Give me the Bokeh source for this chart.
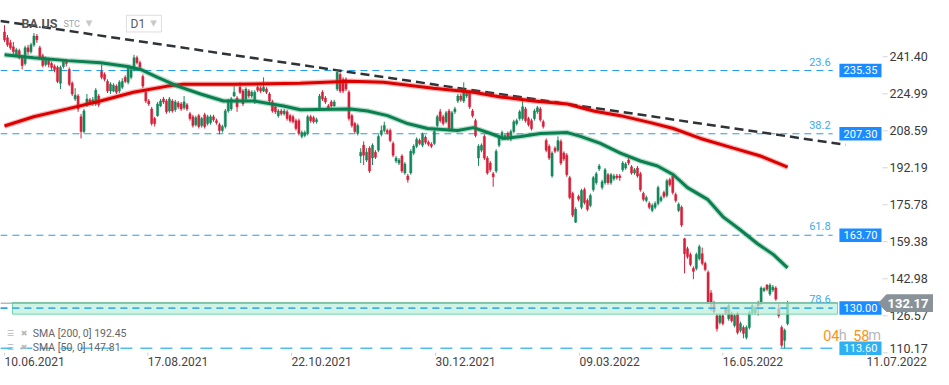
from bokeh.plotting import figure
from bokeh.models import Range1d
from bokeh.embed import file_html
from bokeh.resources import INLINE
from bokeh.core.properties import value

# ---------------- data ----------------
opens = [
252.4, 249.8, 247.6, 245.8, 242.3, 244.1, 241.0, 238.4, 245.4, 243.6,
246.7, 250.6, 245.4, 241.9, 238.0, 240.2, 238.4, 237.1, 236.7, 229.7,
237.1, 239.3, 235.8, 229.7, 222.7, 224.0, 214.8, 208.3, 220.1, 222.3,
220.9, 220.5, 224.0, 234.9, 233.6, 230.5, 226.2, 226.2, 228.4, 226.2,
227.9, 232.3, 230.1, 232.3, 235.8, 241.0, 238.8, 232.7, 225.7, 221.8,
218.3, 214.0, 215.3, 219.6, 222.7, 221.8, 217.4, 221.8, 217.9, 220.9,
220.5, 218.8, 220.1, 216.1, 214.8, 211.3, 215.3, 210.9, 215.7, 211.8,
212.2, 214.8, 213.1, 211.3, 208.7, 210.5, 217.4, 218.3, 224.0, 223.1,
227.9, 226.2, 222.7, 226.2, 224.0, 221.4, 227.9, 227.5, 226.2, 227.1,
224.9, 221.4, 219.2, 215.3, 217.4, 216.1, 217.0, 215.3, 214.8, 213.1,
213.1, 206.1, 206.5, 207.4, 214.8, 214.4, 212.6, 218.3, 225.7, 223.1,
219.6, 221.4, 219.6, 227.1, 233.6, 231.4, 231.4, 225.7, 215.3, 211.8,
207.4, 197.4, 202.2, 195.6, 200.9, 196.5, 199.1, 200.0, 207.0, 208.7,
208.7, 208.7, 203.0, 195.2, 194.3, 197.4, 189.9, 188.6, 189.9, 198.7,
201.7, 204.3, 202.2, 205.7, 203.5, 202.6, 203.0, 210.9, 217.0, 214.8,
212.6, 217.4, 209.2, 217.0, 221.8, 224.0, 221.8, 224.0, 225.7, 217.4,
213.1, 196.5, 200.0, 206.1, 196.5, 194.3, 189.5, 190.8, 202.2, 205.2,
205.7, 207.4, 204.8, 208.3, 211.8, 214.0, 214.0, 218.3, 214.0, 213.1,
214.0, 217.0, 218.3, 212.6, 204.3, 201.7, 188.6, 200.9, 200.0, 203.9,
198.7, 197.8, 187.8, 180.8, 168.1, 179.5, 174.7, 182.5, 177.7, 175.5,
182.5, 185.6, 191.7, 183.4, 185.6, 189.1, 185.6, 187.3, 188.6, 188.6,
191.3, 192.1, 195.6, 192.6, 189.9, 192.1, 189.5, 180.8, 177.7, 176.4,
173.3, 174.7, 176.4, 177.7, 181.2, 179.9, 186.9, 188.6, 180.3, 173.3,
174.7, 160.7, 156.3, 153.7, 147.6, 147.6, 151.9, 154.1, 149.8, 145.8,
136.7, 132.3, 126.6, 123.6, 126.6, 129.7, 125.3, 127.5, 122.3, 127.5,
120.1, 121.4, 117.0, 121.4, 127.9, 127.9, 132.3, 132.3, 138.0, 140.2,
136.2, 138.0, 138.9, 129.7, 121.4, 115.7, 123.1]

highs = [
255.4, 251.1, 248.9, 248.0, 245.4, 245.0, 241.9, 246.3, 246.7, 247.6,
251.9, 251.5, 246.3, 242.8, 241.5, 241.0, 239.3, 238.0, 237.5, 237.5,
240.2, 240.2, 236.7, 230.5, 227.5, 224.9, 216.1, 218.3, 224.9, 223.1,
223.6, 227.5, 224.9, 238.0, 234.5, 231.4, 230.1, 229.7, 229.2, 231.0,
231.9, 233.2, 237.5, 236.7, 242.3, 241.9, 239.7, 233.6, 227.1, 222.7,
219.2, 214.8, 221.4, 222.7, 223.6, 222.7, 223.6, 222.7, 222.3, 221.8,
221.4, 224.0, 220.9, 217.0, 215.7, 215.3, 216.1, 214.8, 216.6, 215.7,
215.7, 215.7, 214.0, 212.2, 211.3, 218.3, 222.7, 223.6, 228.4, 224.0,
230.1, 227.1, 227.9, 227.1, 226.6, 226.6, 228.8, 228.4, 232.3, 227.9,
225.7, 222.3, 220.1, 218.3, 218.3, 218.3, 217.9, 216.1, 215.7, 214.0,
214.0, 208.7, 208.7, 215.7, 215.7, 215.3, 214.4, 224.9, 226.6, 224.0,
220.5, 222.3, 222.3, 235.8, 234.5, 232.3, 232.3, 226.6, 216.1, 212.6,
211.8, 200.9, 203.9, 200.9, 201.7, 203.0, 200.0, 207.0, 210.9, 212.6,
209.6, 209.6, 203.9, 197.4, 196.5, 198.2, 194.7, 189.5, 200.4, 202.6,
205.7, 205.2, 207.8, 206.5, 204.3, 203.5, 209.2, 215.7, 218.3, 215.7,
217.4, 218.3, 217.4, 219.2, 224.9, 224.9, 230.1, 226.6, 226.6, 218.3,
214.0, 202.6, 203.0, 207.0, 197.4, 195.2, 190.4, 200.4, 206.5, 208.7,
207.4, 208.3, 209.2, 213.5, 214.0, 217.9, 223.1, 219.2, 214.8, 214.0,
218.3, 219.6, 219.2, 213.5, 205.2, 202.6, 199.5, 201.7, 206.1, 204.8,
199.5, 198.7, 188.6, 181.6, 174.7, 180.3, 182.9, 183.4, 178.6, 180.8,
188.6, 190.4, 193.9, 186.9, 192.1, 189.9, 189.9, 189.5, 189.5, 189.5,
195.2, 194.7, 196.5, 193.4, 192.1, 193.0, 190.4, 181.6, 179.9, 177.3,
176.4, 177.3, 184.3, 179.9, 182.1, 187.3, 187.8, 189.5, 181.2, 176.8,
175.5, 161.1, 157.2, 154.6, 148.5, 154.6, 158.1, 156.8, 150.6, 146.7,
138.0, 133.2, 127.5, 127.5, 127.5, 130.5, 131.9, 128.4, 127.5, 128.4,
124.0, 122.3, 122.3, 128.8, 131.9, 131.0, 133.2, 139.7, 139.3, 140.6,
141.0, 140.2, 139.7, 131.9, 122.3, 120.9, 133.2]

lows = [
248.0, 245.8, 244.5, 242.3, 241.5, 240.2, 235.8, 237.5, 242.3, 242.8,
245.8, 247.6, 240.2, 236.7, 237.1, 236.7, 235.4, 234.5, 229.7, 227.1,
236.2, 237.1, 228.4, 224.0, 221.8, 217.0, 205.2, 207.4, 219.2, 220.1,
219.6, 219.6, 219.2, 231.4, 230.5, 225.3, 224.9, 225.7, 224.9, 225.3,
227.1, 229.7, 229.2, 231.4, 234.9, 238.0, 235.8, 227.5, 220.9, 219.6,
210.9, 210.5, 214.8, 219.2, 220.5, 216.1, 216.6, 216.6, 217.0, 218.3,
217.4, 217.9, 217.4, 213.1, 210.0, 210.5, 209.6, 210.0, 209.6, 210.9,
211.3, 212.6, 211.3, 207.0, 207.8, 209.6, 216.6, 217.4, 223.6, 217.0,
224.9, 219.6, 221.8, 223.1, 223.1, 220.5, 225.7, 225.3, 225.7, 224.9,
220.9, 216.6, 216.1, 214.4, 215.3, 215.3, 213.1, 212.2, 211.8, 208.7,
206.5, 205.2, 205.7, 206.5, 212.2, 211.8, 211.8, 217.4, 221.8, 220.5,
217.4, 218.8, 219.2, 226.2, 225.3, 225.3, 226.2, 213.1, 210.0, 207.4,
206.5, 194.3, 193.4, 194.7, 189.9, 193.4, 196.1, 199.1, 206.1, 207.8,
207.0, 203.5, 196.9, 194.3, 193.4, 189.9, 189.1, 185.6, 189.1, 197.8,
200.9, 202.2, 201.3, 202.6, 201.7, 200.9, 202.2, 210.0, 212.2, 210.9,
211.8, 208.3, 208.3, 216.1, 220.9, 221.4, 220.9, 223.1, 218.3, 214.4,
205.7, 193.0, 199.1, 195.6, 189.1, 190.4, 183.8, 189.9, 201.3, 204.3,
204.8, 204.3, 203.9, 207.4, 210.9, 213.1, 213.1, 212.2, 210.5, 208.7,
213.1, 216.1, 212.6, 209.6, 199.1, 195.6, 187.8, 198.7, 199.1, 193.4,
195.2, 188.2, 178.2, 170.3, 167.7, 177.3, 173.8, 175.9, 172.9, 174.7,
181.6, 184.7, 190.8, 182.5, 184.7, 184.7, 184.7, 186.4, 186.9, 186.4,
190.4, 191.3, 193.4, 189.1, 189.1, 187.8, 181.6, 177.3, 176.8, 173.8,
172.5, 173.8, 175.5, 176.8, 178.6, 179.0, 183.8, 180.3, 176.8, 172.5,
165.9, 145.4, 151.9, 148.5, 142.8, 146.7, 151.1, 148.9, 146.3, 131.9,
128.8, 127.5, 119.6, 122.7, 122.3, 127.1, 124.4, 123.6, 121.4, 118.3,
119.2, 116.6, 116.1, 120.5, 127.1, 127.1, 126.6, 131.4, 137.1, 137.5,
135.4, 137.1, 133.2, 125.7, 112.6, 112.2, 122.3]

closes = [
248.9, 246.7, 245.4, 243.6, 244.5, 241.0, 237.5, 245.4, 243.6, 246.7,
250.6, 248.9, 241.0, 237.5, 240.2, 238.0, 236.7, 235.8, 230.5, 236.7,
239.3, 238.4, 229.2, 224.9, 224.4, 218.3, 208.3, 217.4, 222.7, 220.9,
222.3, 226.6, 220.1, 232.3, 231.4, 226.2, 229.2, 228.8, 225.7, 230.1,
230.5, 230.5, 236.7, 235.8, 241.0, 238.8, 236.7, 228.4, 221.8, 220.5,
211.8, 211.8, 220.5, 221.8, 221.4, 217.0, 222.7, 217.4, 221.4, 219.2,
218.3, 221.4, 218.3, 214.0, 210.9, 214.4, 210.5, 214.0, 210.5, 214.8,
214.8, 213.5, 212.2, 208.7, 210.5, 217.4, 221.8, 222.7, 225.7, 219.2,
225.7, 220.5, 227.1, 224.0, 225.7, 225.7, 226.6, 226.2, 227.9, 225.7,
221.8, 217.4, 217.0, 217.4, 216.1, 217.4, 214.0, 213.1, 212.6, 209.6,
207.4, 207.8, 207.8, 214.8, 213.1, 212.6, 213.5, 224.0, 222.7, 221.4,
218.3, 219.6, 221.4, 234.5, 226.2, 226.2, 227.1, 214.0, 210.9, 208.3,
210.9, 199.1, 197.8, 199.1, 190.8, 202.2, 196.9, 206.1, 208.7, 210.9,
207.8, 204.3, 197.8, 196.5, 195.6, 190.8, 193.9, 186.9, 199.5, 201.7,
204.8, 203.0, 207.0, 203.5, 202.6, 201.7, 208.3, 214.8, 213.1, 211.8,
216.6, 209.2, 216.6, 218.3, 224.0, 222.3, 226.2, 225.7, 219.2, 215.3,
206.5, 201.7, 202.2, 196.5, 189.9, 191.3, 188.2, 199.5, 205.7, 207.8,
206.5, 205.2, 208.3, 212.6, 213.1, 217.0, 219.2, 213.1, 211.3, 209.6,
217.4, 218.8, 213.5, 210.5, 200.0, 196.5, 198.7, 199.5, 204.3, 194.3,
196.1, 189.1, 179.0, 171.2, 173.8, 178.2, 182.1, 176.8, 173.8, 179.9,
187.8, 189.5, 193.0, 186.0, 191.3, 185.6, 189.1, 188.6, 187.8, 187.8,
194.3, 193.9, 194.3, 189.9, 191.3, 188.6, 182.5, 178.2, 179.0, 174.7,
175.5, 176.4, 183.4, 179.0, 179.5, 186.4, 184.7, 181.2, 177.7, 176.0,
166.8, 154.1, 152.8, 149.3, 146.3, 153.7, 157.2, 149.8, 147.1, 132.7,
132.7, 128.4, 120.9, 126.6, 123.1, 127.9, 131.0, 124.4, 126.6, 119.2,
123.1, 118.8, 121.4, 127.9, 131.0, 130.1, 131.0, 138.9, 138.4, 138.4,
140.2, 139.3, 134.0, 126.6, 113.5, 120.1, 132.17]

sma200_idx = [0, 9.9, 21.4, 32.6, 43.8, 55.4, 60.8, 77.8, 100.5, 117.5, 128.7, 145.7,
              159.3, 168.5, 179.7, 191.2, 200.1, 209.2, 219.4, 227.2, 236.4, 247.6, 256.8, 266]
sma200_val = [210.7, 214.8, 218.3, 221.8, 225.7, 228.4, 229.2, 229.2, 229.7, 230.6, 230.1, 227.5,
              225.7, 223.6, 221.8, 220.5, 217.4, 215.3, 212.2, 209.6, 205.2, 200.9, 197.4, 192.45]

sma50_idx = [0, 9.9, 21.4, 32.6, 41.8, 46.2, 52.0, 58.8, 66.6, 74.4, 84.6, 94.8, 100.5, 117.5,
             123.3, 130.1, 136.9, 143.7, 153.9, 159.3, 165.1, 169.5, 175.3, 182.1, 191.2, 195.7,
             202.4, 209.2, 216.0, 221.8, 227.2, 232.0, 238.8, 244.2, 250.0, 255.8, 261.2, 266]
sma50_val = [242.3, 241.0, 239.7, 238.8, 237.1, 235.8, 232.3, 228.4, 224.9, 221.8, 221.8, 219.6,
             217.9, 218.3, 217.4, 215.3, 211.8, 209.6, 208.7, 210.0, 207.4, 205.2, 206.1, 207.4,
             207.8, 206.1, 203.0, 198.7, 195.2, 193.0, 189.1, 183.4, 178.2, 170.3, 164.6, 158.5,
             153.7, 147.81]

trend_idx = [-1.4, 285.7]
trend_val = [257.3, 202.4]

fib_ratios = ["23.6", "38.2", "61.8", "78.6"]
fib_levels = [235.35, 207.30, 162.3, 130.0]
level_boxes = ["235.35", "207.30", "163.70", "130.00"]
low_level = 112.2
low_label = "113.60"
zone_top = 132.5
zone_bottom = 127.3
last_price = 132.17
last_label = "132.17"
price_ticks = [241.40, 224.99, 208.59, 192.19, 175.78, 159.38, 142.98, 126.57, 110.17]
date_idx = [0, 48.7, 97.5, 146.4, 195.3, 244.0, 292.8]
date_labels = ["10.06.2021", "17.08.2021", "22.10.2021", "30.12.2021",
               "09.03.2022", "16.05.2022", "11.07.2022"]
sma_legend = ["SMA [200,  0] 192.45", "SMA [50,  0] 147.81"]

# ---------------- figure ----------------
FONT = value("Roboto")
p = figure(width=933, height=369, output_backend="svg", toolbar_location=None,
           x_range=Range1d(-1.359, 315.56), y_range=Range1d(102.77, 266.354),
           x_axis_location=None, y_axis_location=None, min_border=0,
           background_fill_color="white", border_fill_color="white")
p.outline_line_color = None
p.grid.grid_line_color = None

X0, XF, XZ = -1.4, 281.3, 282.95

# fibonacci / horizontal dashed levels
p.segment(x0=[X0] * 4, y0=fib_levels, x1=[XF] * 4, y1=fib_levels, line_color="#22a0e8",
          line_width=1.1, line_dash="7 5")
p.segment(x0=[X0], y0=[low_level], x1=[XF], y1=[low_level], line_color="#4fbef2",
          line_width=1.4, line_dash="12 8")

# trend line
p.line(trend_idx, trend_val, line_color="#2e3338", line_width=2.5, line_dash="9 5")

# candles
idx = list(range(len(closes)))
up = [c >= o for o, c in zip(opens, closes)]
cols = ["#14875a" if u else "#d5213a" for u in up]
tops, bots = [], []
for o, c in zip(opens, closes):
    t, b = max(o, c), min(o, c)
    if t - b < 0.5:
        t, b = t + 0.25, b - 0.25
    tops.append(t)
    bots.append(b)
p.segment(x0=idx, y0=lows, x1=idx, y1=highs, line_color=cols, line_width=1)
p.vbar(x=idx, width=0.72, top=tops, bottom=bots, fill_color=cols, line_color=cols, line_width=0.5)

# SMA lines with soft halo
p.line(sma200_idx, sma200_val, line_color="#e83030", line_width=5.5, line_alpha=0.35)
p.line(sma200_idx, sma200_val, line_color="#dd0000", line_width=3)
p.line(sma50_idx, sma50_val, line_color="#2a9a68", line_width=5.5, line_alpha=0.35)
p.line(sma50_idx, sma50_val, line_color="#0a8050", line_width=3)

# 130 zone
p.quad(left=[2.72], right=[XZ], top=[zone_top], bottom=[zone_bottom],
       fill_color="#bdefda", fill_alpha=0.72, line_color="#72d6ab", line_width=1)
p.segment(x0=[X0], y0=[fib_levels[3]], x1=[XF], y1=[fib_levels[3]], line_color="#22a0e8",
          line_width=1.1, line_dash="7 5")
# current price line
p.segment(x0=[X0], y0=[last_price], x1=[XZ], y1=[last_price], line_color="#8f979d", line_width=1)

# fib ratio texts
p.text(x=[280.6] * 4, y=[lv + 3.9 for lv in fib_levels], text=fib_ratios,
       text_font=FONT, text_font_size="11px", text_color="#3aa9ee",
       text_align="right", text_baseline="middle")

# price boxes
p.quad(left=[283.6] * 4, right=[297.9] * 4, top=[lv + 3.0 for lv in fib_levels],
       bottom=[lv - 3.0 for lv in fib_levels], fill_color="#1a8cff", line_color=None)
p.quad(left=[283.6], right=[297.9], top=[low_level + 3.0], bottom=[low_level - 3.0],
       fill_color="#2eb0f2", line_color=None)
p.text(x=[290.75] * 5, y=fib_levels + [low_level], text=level_boxes + [low_label],
       text_font=FONT, text_font_size="11px", text_color="white",
       text_align="center", text_baseline="middle")

# right price scale
p.segment(x0=[298.3] * len(price_ticks), y0=price_ticks, x1=[300.0] * len(price_ticks),
          y1=price_ticks, line_color="#d4d4d4", line_width=1)
p.text(x=[300.6] * (len(price_ticks) - 1), y=price_ticks[:-1],
       text=["%.2f" % v for v in price_ticks[:-1]],
       text_font=FONT, text_font_size="12.5px", text_color="#3a3a3a",
       text_align="left", text_baseline="middle")
# lowest tick label sits slightly higher, as in the reference
p.text(x=[300.6], y=[price_ticks[-1] + 1.9], text=["%.2f" % price_ticks[-1]],
       text_font=FONT, text_font_size="12.5px", text_color="#3a3a3a",
       text_align="left", text_baseline="middle")

# last price arrow label
ax = [296.9, 299.6, 317.0, 317.0, 299.6]
ay = [last_price, last_price + 3.7, last_price + 3.7, last_price - 3.7, last_price - 3.7]
p.patch(ax, ay, fill_color="#899298", line_color="#899298")
p.text(x=[306.9], y=[last_price], text=[last_label], text_font=FONT, text_font_size="13px",
       text_font_style="bold", text_color="white", text_align="center", text_baseline="middle")

# countdown
p.text(x=[278.1] * 4, y=[117.9] * 4, x_offset=[0, 15.5, 30, 45],
       text=["04", "h", "58", "m"], text_font=FONT, text_font_size="14.5px",
       text_color=["#f7941d", "#b5b9bc", "#f7941d", "#b5b9bc"],
       text_align="left", text_baseline="middle")

# date axis
p.segment(x0=date_idx, y0=[110.2] * len(date_idx), x1=date_idx, y1=[108.9] * len(date_idx),
          line_color="#cfcfcf", line_width=1)
p.text(x=date_idx, y=[106.4] * len(date_idx), text=date_labels, text_font=FONT,
       text_font_size="12px", text_color="#444444", text_align="left", text_baseline="middle")

# SMA legend
p.text(x=[2.0, 2.0], y=[118.8, 112.7], text=["\u2630", "\u2630"], text_font=value("DejaVu Sans"),
       text_font_size="8px", text_color="#b8b8b8", text_align="center", text_baseline="middle")
p.text(x=[6.7, 6.7], y=[118.8, 112.7], text=["\u2716", "\u2716"], text_font=value("DejaVu Sans"),
       text_font_size="8px", text_color="#b8b8b8", text_align="center", text_baseline="middle")
p.text(x=[9.6, 9.6], y=[118.8, 112.7], text=sma_legend, text_font=FONT,
       text_font_size="10.5px", text_color="#666666", text_align="left", text_baseline="middle")

# title / symbol selector
p.text(x=[5.8], y=[256.3], text=["BA.US"], text_font=FONT, text_font_size="12.5px",
       text_font_style="bold", text_color="#555555", text_align="left", text_baseline="middle")
p.text(x=[20.0], y=[255.9], text=["STC"], text_font=FONT, text_font_size="9px",
       text_color="#99a6b3", text_align="left", text_baseline="middle")
p.text(x=[28.7], y=[256.6], text=["\u25BE"], text_font=value("DejaVu Sans"), text_font_size="13px",
       text_color="#c9c9c9", text_align="center", text_baseline="middle")
p.quad(left=[41.4], right=[53.3], top=[259.8], bottom=[252.4], fill_color="white",
       line_color="#dddddd", line_width=1)
p.text(x=[42.8], y=[256.1], text=["D1"], text_font=FONT, text_font_size="12px",
       text_color="#5a5a5a", text_align="left", text_baseline="middle")
p.text(x=[50.6], y=[256.6], text=["\u25BE"], text_font=value("DejaVu Sans"), text_font_size="13px",
       text_color="#c9c9c9", text_align="center", text_baseline="middle")

open("out.html", "w").write(file_html(p, INLINE))
